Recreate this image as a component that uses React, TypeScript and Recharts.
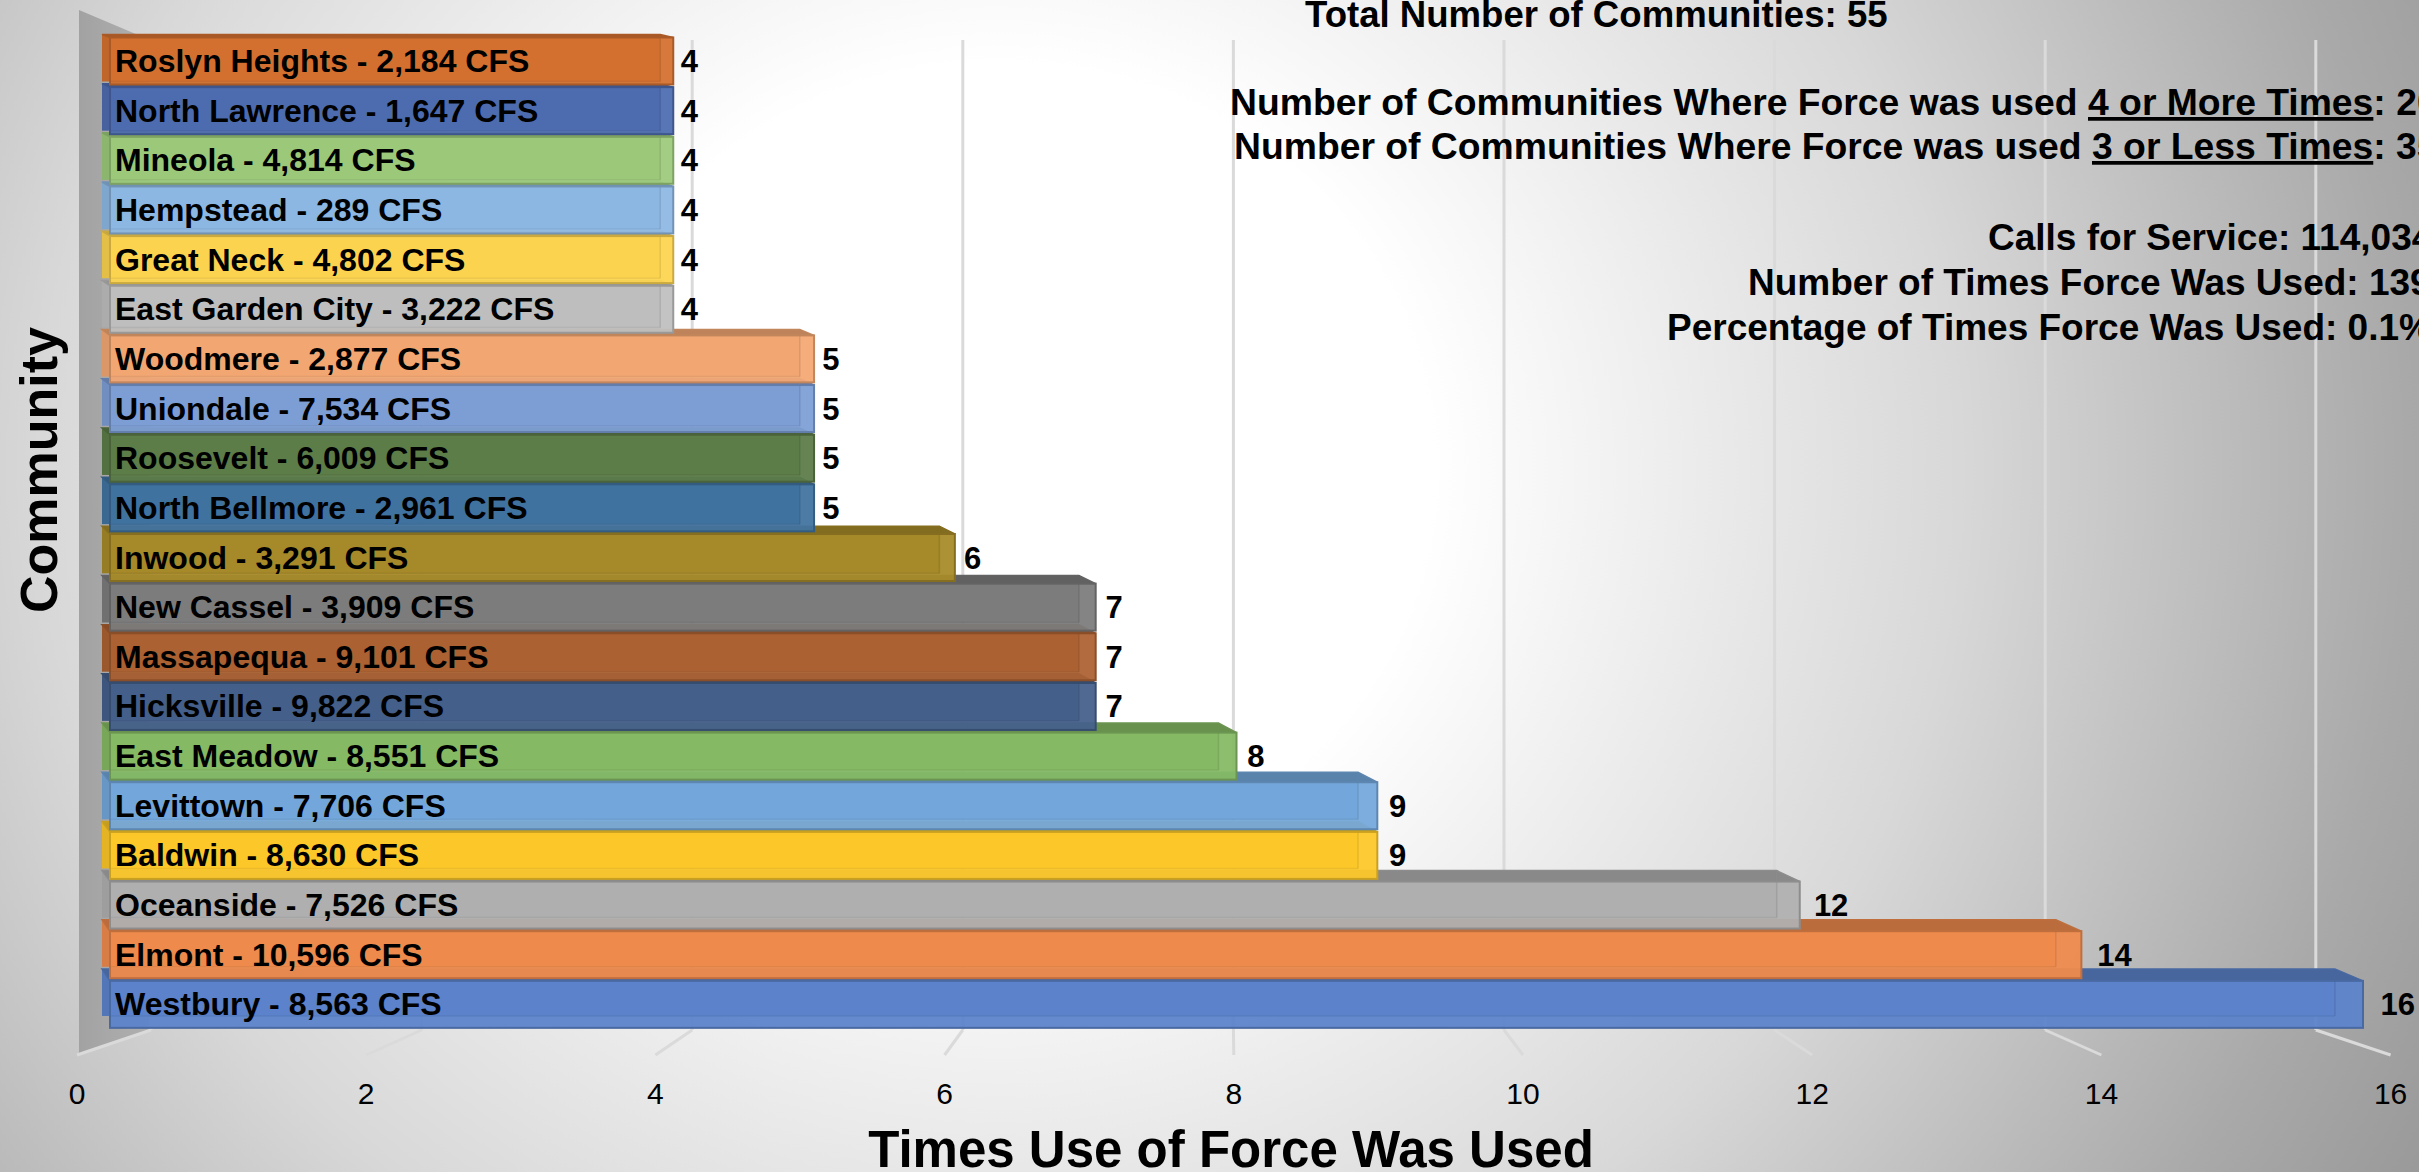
import { BarChart, Bar, XAxis, YAxis, CartesianGrid, Cell, LabelList } from "recharts";

const W = 2419;
const H = 1172;
const FONT = '"Liberation Sans", Arial, Helvetica, sans-serif';

// top to bottom, as shown
const communities = [
  "Roslyn Heights",
  "North Lawrence",
  "Mineola",
  "Hempstead",
  "Great Neck",
  "East Garden City",
  "Woodmere",
  "Uniondale",
  "Roosevelt",
  "North Bellmore",
  "Inwood",
  "New Cassel",
  "Massapequa",
  "Hicksville",
  "East Meadow",
  "Levittown",
  "Baldwin",
  "Oceanside",
  "Elmont",
  "Westbury",
];
const callsForService = [
  2184, 1647, 4814, 289, 4802, 3222, 2877, 7534, 6009, 2961, 3291, 3909, 9101,
  9822, 8551, 7706, 8630, 7526, 10596, 8563,
];
const forceUsed = [4, 4, 4, 4, 4, 4, 5, 5, 5, 5, 6, 7, 7, 7, 8, 9, 9, 12, 14, 16];
const barColors = [
  "#d57130", "#4e6cb0", "#9cca7a", "#8db8e3", "#fdd450", "#bfbfbf", "#f3a873",
  "#7d9ed6", "#5c7c48", "#4173a0", "#a78a28", "#7c7c7c", "#ac6232", "#45608b",
  "#86ba64", "#74a8dc", "#fdc828", "#b0b0b0", "#ef8b4d", "#5b83cb",
];
const xTicks = [0, 2, 4, 6, 8, 10, 12, 14, 16];

const totalLine = "Total Number of Communities: 55";
const moreLine = ["Number of Communities Where Force was used ", "4 or More Times", ": 20"];
const lessLine = ["Number of Communities Where Force was used ", "3 or Less Times", ": 35"];
const statLines = [
  "Calls for Service: 114,034",
  "Number of Times Force Was Used: 139",
  "Percentage of Times Force Was Used: 0.1%",
];

// bottom bar first so upper bars are drawn over the tops of lower ones
const data = communities
  .map((name, i) => ({
    name,
    label: `${name} - ${callsForService[i].toLocaleString("en-US")} CFS`,
    value: forceUsed[i],
    color: barColors[i],
  }))
  .reverse();

// layout
const M = { top: 36, right: 56, left: 110, bottom: 0 };
const X_AXIS_H = 143;
const PLOT_R = W - M.right;
const PLOT_B = H - X_AXIS_H;
const FLOOR_Y = PLOT_B + 1;
const X_MAX = 16;

// rough perspective helpers (front face -> back face offset)
const depthX = (px: number) => 8 + 0.0089 * (px - M.left);
const depthY = (py: number) => 3 + 0.0094 * (py - M.top);
// value in axis units from a bar-scale pixel
const toVal = (px: number) => ((px - M.left) / (PLOT_R - M.left)) * X_MAX;
// floor-front tick position and back-wall gridline position
const frontX = (px: number) => 77 + toVal(px) * 144.6;
const backX = (px: number) => 151 + toVal(px) * 135.3;

function shade(hex: string, k: number) {
  const n = parseInt(hex.slice(1), 16);
  const r = Math.round(((n >> 16) & 255) * k);
  const g = Math.round(((n >> 8) & 255) * k);
  const b = Math.round((n & 255) * k);
  return `rgb(${r},${g},${b})`;
}

function Box3D(props: any) {
  const { x, y, width, height, fill } = props;
  if (!width || width <= 0) return null;
  const dL = depthX(x);
  const dR = depthX(x + width);
  const dy = depthY(y);
  const edge = shade(fill, 0.8);
  return (
    <g>
      <rect x={x - dL} y={y - dy} width={width - dR + dL} height={height} fill={shade(fill, 0.9)} />
      <polygon
        points={`${x},${y} ${x + width},${y} ${x + width - dR},${y - dy} ${x - dL},${y - dy}`}
        fill={shade(fill, 0.78)}
        stroke={edge}
        strokeWidth={1.5}
      />
      <rect x={x} y={y} width={width} height={height} fill={fill} fillOpacity={0.94} stroke={edge} strokeWidth={2} />
      <line
        x1={x + width - dR}
        y1={y - dy}
        x2={x + width - dR}
        y2={y + height - dy}
        stroke={edge}
        strokeOpacity={0.45}
        strokeWidth={1.5}
      />
      <line
        x1={x}
        y1={y + height - dy}
        x2={x + width - dR}
        y2={y + height - dy}
        stroke={edge}
        strokeOpacity={0.3}
        strokeWidth={1.5}
      />
    </g>
  );
}

function box(props: any) {
  const vb = props.viewBox || {};
  return {
    x: props.x ?? vb.x,
    y: props.y ?? vb.y,
    width: props.width ?? vb.width,
    height: props.height ?? vb.height,
  };
}

function NameLabel(props: any) {
  const { x, y, height } = box(props);
  return (
    <text
      x={x + 5}
      y={y + height / 2 + 11}
      fontFamily={FONT}
      fontSize={32}
      fontWeight="bold"
      fill="#000"
    >
      {props.value}
    </text>
  );
}

function ValueLabel(props: any) {
  const { x, y, width, height } = box(props);
  return (
    <text
      x={x + width + 4 + width * 0.006}
      y={y + height / 2 + 11}
      fontFamily={FONT}
      fontSize={31}
      fontWeight="bold"
      fill="#000"
    >
      {props.value}
    </text>
  );
}

function XTick(props: any) {
  const { x, payload } = props;
  return (
    <text
      x={frontX(x)}
      y={H - 68}
      textAnchor="middle"
      fontFamily={FONT}
      fontSize={30}
      fill="#000"
    >
      {payload.value}
    </text>
  );
}

function GridLine(props: any) {
  const { x1, y1, y2, index } = props;
  const xb = backX(x1);
  return (
    <g key={`g-${index}`}>
      <line x1={xb} y1={y1 + 4} x2={xb} y2={y2 + 1} stroke="#dadada" strokeWidth={3} />
      <line x1={xb} y1={y2 + 1} x2={frontX(x1)} y2={y2 + 26} stroke="#dadada" strokeWidth={3} />
    </g>
  );
}

export default function App() {
  return (
    <div
      style={{
        position: "absolute",
        left: 0,
        top: 0,
        width: W,
        height: H,
        overflow: "hidden",
        background:
          "radial-gradient(ellipse 1600px 1500px at 1000px 470px, #ffffff 0%, #ffffff 27%, #d8d8d8 60%, #a9a9a9 88%, #9a9a9a 100%)",
      }}
    >
      <svg width={W} height={H} style={{ position: "absolute", left: 0, top: 0 }}>
        <defs>
          <linearGradient id="wall" x1="0" y1="0" x2="1" y2="0">
            <stop offset="0%" stopColor="#a2a2a2" />
            <stop offset="100%" stopColor="#b0b0b0" />
          </linearGradient>
        </defs>
        <polygon
          points={`79,10 150,40 150,${FLOOR_Y} 79,${FLOOR_Y + 24}`}
          fill="url(#wall)"
        />
      </svg>
      <div style={{ position: "absolute", left: 0, top: 0 }}>
        <BarChart
          width={W}
          height={H}
          data={data}
          layout="vertical"
          margin={M}
          barCategoryGap={1.5}
        >
          <CartesianGrid horizontal={false} vertical={GridLine} />
          <XAxis
            type="number"
            domain={[0, X_MAX]}
            ticks={xTicks}
            height={X_AXIS_H}
            axisLine={false}
            tickLine={false}
            tick={XTick}
            interval={0}
          />
          <YAxis type="category" dataKey="name" reversed hide width={0} />
          <Bar dataKey="value" shape={Box3D} isAnimationActive={false}>
            {data.map((d) => (
              <Cell key={d.name} fill={d.color} />
            ))}
            <LabelList dataKey="label" content={NameLabel} />
            <LabelList dataKey="value" content={ValueLabel} />
          </Bar>
        </BarChart>
      </div>
      <svg
        width={W}
        height={H}
        style={{ position: "absolute", left: 0, top: 0, pointerEvents: "none" }}
        fontFamily={FONT}
        fontWeight="bold"
        fill="#000"
      >
        <text x={39} y={470} fontSize={52} textAnchor="middle" dominantBaseline="central" transform="rotate(-90 39 470)">
          Community
        </text>
        <text x={1231} y={1167} fontSize={51} textAnchor="middle">
          Times Use of Force Was Used
        </text>
        <text x={1305} y={27} fontSize={36.6}>
          {totalLine}
        </text>
        <text x={1230} y={115} fontSize={37.3}>
          {moreLine[0]}
          <tspan style={{ textDecoration: "underline" }}>{moreLine[1]}</tspan>
          {moreLine[2]}
        </text>
        <text x={1234} y={159} fontSize={37.3}>
          {lessLine[0]}
          <tspan style={{ textDecoration: "underline" }}>{lessLine[1]}</tspan>
          {lessLine[2]}
        </text>
        <text x={1988} y={250} fontSize={37}>
          {statLines[0]}
        </text>
        <text x={1748} y={295} fontSize={37}>
          {statLines[1]}
        </text>
        <text x={1667} y={340} fontSize={37}>
          {statLines[2]}
        </text>
      </svg>
    </div>
  );
}
